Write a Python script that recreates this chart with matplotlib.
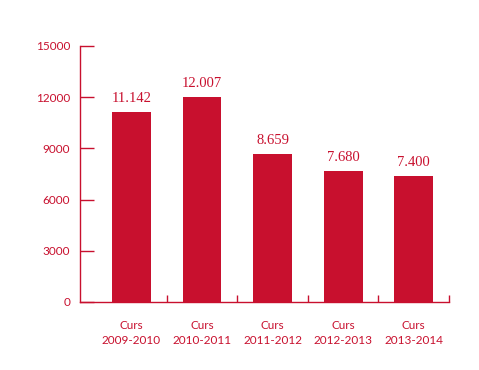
import matplotlib.pyplot as plt

categories = ["Curs\n2009-2010", "Curs\n2010-2011", "Curs\n2011-2012", "Curs\n2012-2013", "Curs\n2013-2014"]
values = [11142, 12007, 8659, 7680, 7400]
value_labels = ["11.142", "12.007", "8.659", "7.680", "7.400"]
yticks = [0, 3000, 6000, 9000, 12000, 15000]

RED = "#c8102e"


def main():
    fig = plt.figure(figsize=(4.79, 3.70), dpi=100)
    ax = fig.add_axes([80 / 479, 68 / 370, 369 / 479, 256 / 370])

    x = list(range(len(values)))
    bars = ax.bar(x, values, width=0.55, color=RED)

    for b, lab in zip(bars, value_labels):
        ax.annotate(lab, (b.get_x() + b.get_width() / 2, b.get_height()),
                    xytext=(0, 5), textcoords="offset points",
                    ha="center", va="bottom", color=RED,
                    family="Liberation Serif", fontsize=10.5)

    ax.set_xlim(-0.73, 4.5)
    ax.set_ylim(0, 15000)

    for s in ["top", "right"]:
        ax.spines[s].set_visible(False)
    for s in ["left", "bottom"]:
        ax.spines[s].set_color(RED)
        ax.spines[s].set_linewidth(1)

    ax.set_yticks(yticks)
    ax.set_yticklabels([str(v) for v in yticks])
    ax.tick_params(axis="y", direction="in", length=10, width=1, color=RED,
                   labelcolor=RED, labelsize=8.5, pad=7)

    ax.set_xticks(x)
    ax.set_xticklabels(categories)
    ax.set_xticks([i + 0.5 for i in x], minor=True)
    ax.tick_params(axis="x", which="major", length=0, labelcolor=RED,
                   labelsize=8.5, pad=13)
    ax.tick_params(axis="x", which="minor", direction="in", length=5,
                   width=1, color=RED)
    for t in ax.get_xticklabels() + ax.get_yticklabels():
        t.set_family("Lato")
    for t in ax.get_xticklabels():
        t.set_linespacing(1.4)

    fig.savefig("out.png", dpi=100)


if __name__ == "__main__":
    main()
